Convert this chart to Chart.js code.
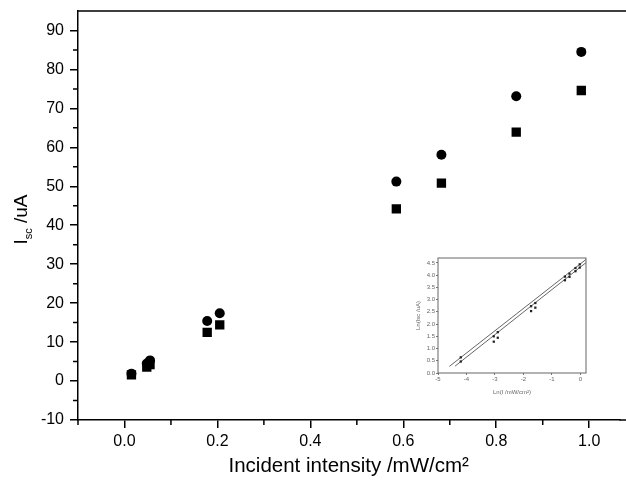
<!DOCTYPE html>
<html lang="en">
<head>
<meta charset="UTF-8" />
<title>Isc vs incident intensity</title>
<script src="https://cdn.jsdelivr.net/npm/chart.js"></script>
<style>
  body { margin: 0; background: #fff; }
  #wrap { position: relative; width: 626px; height: 481px; }
  #mainChart { position: absolute; left: 0; top: 0; }
  #insetChart { position: absolute; left: 405px; top: 250px; }
</style>
</head>
<body>
<div id="wrap">
  <canvas id="mainChart" width="626" height="481"></canvas>
  <canvas id="insetChart" width="200" height="150"></canvas>
</div>
<script>
// main plot data
const intensity = [0.015, 0.048, 0.055, 0.178, 0.205, 0.585, 0.682, 0.843, 0.983];
const iscCircles = [1.9, 4.5, 5.3, 15.4, 17.4, 51.2, 58.1, 73.1, 84.5];
const iscSquares = [1.6, 3.6, 4.2, 12.5, 14.4, 44.2, 50.8, 63.9, 74.6];

const xMajorTicks = [0, 0.2, 0.4, 0.6, 0.8, 1.0];
const xMinorTicks = [-0.1, 0.1, 0.3, 0.5, 0.7, 0.9];
const yMajorTicks = [-10, 0, 10, 20, 30, 40, 50, 60, 70, 80, 90];
const yMinorTicks = [-5, 5, 15, 25, 35, 45, 55, 65, 75, 85];

// inset: ln-ln plot
const lnIntensity = [-4.20, -3.04, -2.90, -1.73, -1.58, -0.54, -0.38, -0.17, -0.02];
const lnCircles = [0.64, 1.50, 1.67, 2.73, 2.86, 3.94, 4.06, 4.29, 4.44];
const lnSquares = [0.47, 1.28, 1.44, 2.53, 2.67, 3.79, 3.93, 4.16, 4.31];
const fitUpperX = [-4.6, 0.2];
const fitUpperY = [0.27, 4.64];
const fitLowerX = [-4.4, 0.2];
const fitLowerY = [0.28, 4.51];
const insetXTicks = [-5, -4, -3, -2, -1, 0];
const insetYTicks = [0, 0.5, 1, 1.5, 2, 2.5, 3, 3.5, 4, 4.5];

const FONT = "'Liberation Sans', Arial, sans-serif";

function toPoints(xs, ys) {
  return xs.map((x, i) => ({ x: x, y: ys[i] }));
}

function noPad(s) {
  s.paddingLeft = 0; s.paddingRight = 0; s.paddingTop = 0; s.paddingBottom = 0;
}

// top frame line, minor ticks and the subscripted y title
const extrasPlugin = {
  id: 'extras',
  afterDraw(chart) {
    const ctx = chart.ctx;
    const area = chart.chartArea;
    const xs = chart.scales.x;
    const ys = chart.scales.y;
    ctx.save();
    ctx.strokeStyle = '#000';
    ctx.lineWidth = 1.5;
    ctx.beginPath();
    ctx.moveTo(area.left, area.top);
    ctx.lineTo(chart.width, area.top);
    ctx.moveTo(area.right, area.bottom);
    ctx.lineTo(chart.width, area.bottom);
    xMinorTicks.forEach(v => {
      const px = xs.getPixelForValue(v);
      ctx.moveTo(px, area.bottom);
      ctx.lineTo(px, area.bottom + 5);
    });
    yMinorTicks.forEach(v => {
      const py = ys.getPixelForValue(v);
      ctx.moveTo(area.left, py);
      ctx.lineTo(area.left - 5, py);
    });
    ctx.stroke();

    ctx.fillStyle = '#000';
    ctx.textBaseline = 'alphabetic';
    ctx.translate(27, (area.top + area.bottom) / 2 + 4);
    ctx.rotate(-Math.PI / 2);
    const big = '19px ' + FONT, small = '11px ' + FONT;
    ctx.font = big;
    const wI = ctx.measureText('I').width;
    const wRest = ctx.measureText(' /uA').width;
    ctx.font = small;
    const wSub = ctx.measureText('sc').width;
    let x = -(wI + wSub + wRest) / 2;
    ctx.font = big;
    ctx.fillText('I', x, 0);
    x += wI;
    ctx.font = small;
    ctx.fillText('sc', x, 5);
    x += wSub;
    ctx.font = big;
    ctx.fillText(' /uA', x, 0);
    ctx.restore();
  }
};

new Chart(document.getElementById('mainChart'), {
  type: 'scatter',
  data: {
    datasets: [
      {
        label: 'circles',
        data: toPoints(intensity, iscCircles),
        pointStyle: 'circle',
        pointRadius: 5,
        backgroundColor: '#000',
        borderColor: '#000',
        borderWidth: 0
      },
      {
        label: 'squares',
        data: toPoints(intensity, iscSquares),
        pointStyle: 'rect',
        pointRadius: 6.6,
        backgroundColor: '#000',
        borderColor: '#000',
        borderWidth: 0
      }
    ]
  },
  options: {
    responsive: false,
    animation: false,
    layout: { padding: { top: 11, left: 0, right: 0, bottom: 0 } },
    plugins: { legend: { display: false }, tooltip: { enabled: false } },
    scales: {
      x: {
        type: 'linear',
        min: -0.1,
        max: 1.065,
        afterBuildTicks: s => { s.ticks = xMajorTicks.map(v => ({ value: v })); },
        afterFit: s => { s.height = 61; noPad(s); },
        border: { display: true, color: '#000', width: 1.5 },
        grid: { drawOnChartArea: false, drawTicks: true, tickLength: 8, color: '#000', lineWidth: 1.5 },
        ticks: {
          color: '#000',
          padding: 4,
          font: { family: FONT, size: 16 },
          callback: v => v.toFixed(1)
        },
        title: {
          display: true,
          text: 'Incident intensity /mW/cm\u00B2',
          color: '#000',
          font: { family: FONT, size: 20.5 },
          padding: { top: 0, bottom: 2 }
        }
      },
      y: {
        type: 'linear',
        min: -10,
        max: 95,
        afterBuildTicks: s => { s.ticks = yMajorTicks.map(v => ({ value: v })); },
        afterFit: s => { s.width = 78; noPad(s); },
        border: { display: true, color: '#000', width: 1.5 },
        grid: { drawOnChartArea: false, drawTicks: true, tickLength: 8, color: '#000', lineWidth: 1.5 },
        ticks: {
          color: '#000',
          padding: 6,
          font: { family: FONT, size: 16 }
        }
      }
    }
  },
  plugins: [extrasPlugin]
});

// inset frame
const insetFrame = {
  id: 'insetFrame',
  afterDraw(chart) {
    const ctx = chart.ctx;
    const a = chart.chartArea;
    ctx.save();
    ctx.strokeStyle = '#666';
    ctx.lineWidth = 1;
    ctx.strokeRect(a.left, a.top, a.right - a.left, a.bottom - a.top);
    ctx.restore();
  }
};

new Chart(document.getElementById('insetChart'), {
  type: 'scatter',
  data: {
    datasets: [
      { data: toPoints(lnIntensity, lnCircles), pointStyle: 'rect', pointRadius: 1.6, backgroundColor: '#222', borderWidth: 0 },
      { data: toPoints(lnIntensity, lnSquares), pointStyle: 'rect', pointRadius: 1.6, backgroundColor: '#222', borderWidth: 0 },
      { data: toPoints(fitUpperX, fitUpperY), showLine: true, pointRadius: 0, borderColor: '#555', borderWidth: 0.9 },
      { data: toPoints(fitLowerX, fitLowerY), showLine: true, pointRadius: 0, borderColor: '#555', borderWidth: 0.9 }
    ]
  },
  options: {
    responsive: false,
    animation: false,
    layout: { padding: { top: 8, right: 19, left: 0, bottom: 0 } },
    plugins: { legend: { display: false }, tooltip: { enabled: false } },
    scales: {
      x: {
        type: 'linear',
        min: -5,
        max: 0.2,
        afterBuildTicks: s => { s.ticks = insetXTicks.map(v => ({ value: v })); },
        afterFit: s => { s.height = 27; noPad(s); },
        border: { display: false },
        grid: { drawOnChartArea: false, drawTicks: true, tickLength: 2, color: '#777' },
        ticks: { color: '#666', padding: 1, font: { family: FONT, size: 6 } },
        title: { display: true, text: 'Ln(I /mW/cm\u00B2)', color: '#666', font: { family: FONT, size: 6 }, padding: { top: 0, bottom: 4 } }
      },
      y: {
        type: 'linear',
        min: 0,
        max: 4.7,
        afterBuildTicks: s => { s.ticks = insetYTicks.map(v => ({ value: v })); },
        afterFit: s => { s.width = 33; noPad(s); },
        border: { display: false },
        grid: { drawOnChartArea: false, drawTicks: true, tickLength: 2, color: '#777' },
        ticks: { color: '#666', padding: 1, font: { family: FONT, size: 6 }, callback: v => v.toFixed(1) },
        title: { display: true, text: 'Ln(Isc /uA)', color: '#666', font: { family: FONT, size: 6 }, padding: { top: 10, bottom: 0 } }
      }
    }
  },
  plugins: [insetFrame]
});
</script>
</body>
</html>
